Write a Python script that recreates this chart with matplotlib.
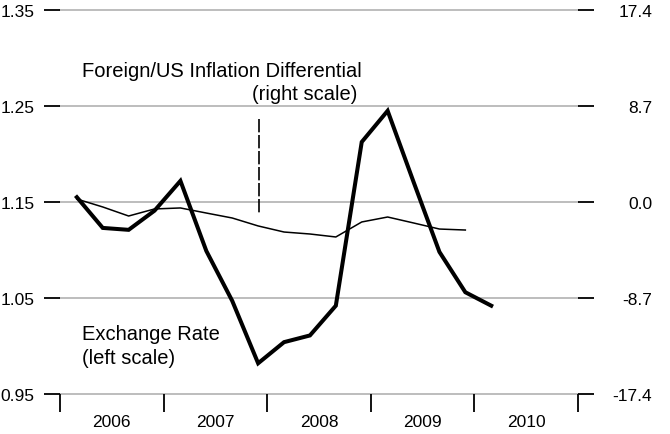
import matplotlib
matplotlib.use("Agg")
import matplotlib.pyplot as plt
import numpy as np

plt.rcParams['font.family'] = ['Liberation Sans', 'DejaVu Sans']

# Data (quarterly, starting 2006 Q1)
years = ["2006", "2007", "2008", "2009", "2010"]
exchange_rate = [1.155, 1.123, 1.121, 1.141, 1.172, 1.099, 1.047, 0.982, 1.004,
                 1.011, 1.042, 1.2125, 1.245, 1.171, 1.098, 1.056, 1.042]
inflation_diff = [0.27, -0.45, -1.27, -0.63, -0.54, -1.0, -1.45, -2.17, -2.72,
                  -2.9, -3.17, -1.81, -1.36, -1.9, -2.45, -2.54]
left_ticks = [0.95, 1.05, 1.15, 1.25, 1.35]
right_ticks = [-17.4, -8.7, 0.0, 8.7, 17.4]

W, H = 670, 435
fig = plt.figure(figsize=(W / 100, H / 100), dpi=100)
ax = fig.add_axes([60 / W, (H - 395) / H, (578 - 60) / W, (395 - 11) / H])
ax2 = ax.twinx()

x_er = np.arange(len(exchange_rate)) + 0.65
x_inf = np.arange(len(inflation_diff)) + 0.65

ax.set_xlim(0, 20)
ax.set_ylim(0.95, 1.35)
ax2.set_ylim(-17.4, 17.4)

grey = '#b8b8b8'
for v in left_ticks:
    ax.axhline(v, color=grey, lw=1.3, zorder=0, clip_on=False)

ax.plot(x_er, exchange_rate, color='black', lw=2.9, solid_joinstyle='miter', zorder=3)
ax2.plot(x_inf, inflation_diff, color='black', lw=1.1, zorder=3)

# leader line
ln, = ax.plot([7.67, 7.67], [1.2365, 1.139], color='black', lw=1.2)
ln.set_dashes([8, 1.6])

for a in (ax, ax2):
    for s in a.spines.values():
        s.set_visible(False)

tfs = 12.5
ax.set_yticks(left_ticks)
ax.set_yticklabels([f"{v:.2f}" for v in left_ticks], fontsize=tfs)
ax.tick_params(axis='y', direction='out', length=11.5, width=1.3, pad=7, color='black')

ax2.set_yticks(right_ticks)
ax2.set_yticklabels([f"{v:.1f}" for v in right_ticks], fontsize=tfs, ha='right')
ax2.tick_params(axis='y', direction='out', length=11.5, width=1.3, pad=42, color='black')

ax.set_xticks(np.arange(0, 21, 4))
ax.set_xticklabels([])
ax.set_xticks(np.arange(2, 20, 4), minor=True)
ax.set_xticklabels(years, minor=True, fontsize=tfs)
ax.tick_params(axis='x', which='major', direction='out', length=13, width=1.3, color='black')
ax.tick_params(axis='x', which='minor', length=0, pad=14.5)

lfs = 14.5
ax.text(0.85, 1.2865, "Foreign/US Inflation Differential", fontsize=lfs, ha='left', va='center')
ax.text(11.5, 1.263, "(right scale)", fontsize=lfs, ha='right', va='center')
ax.text(0.85, 1.0125, "Exchange Rate", fontsize=lfs, ha='left', va='center')
ax.text(0.85, 0.9875, "(left scale)", fontsize=lfs, ha='left', va='center')

fig.savefig("out.png", dpi=100)
